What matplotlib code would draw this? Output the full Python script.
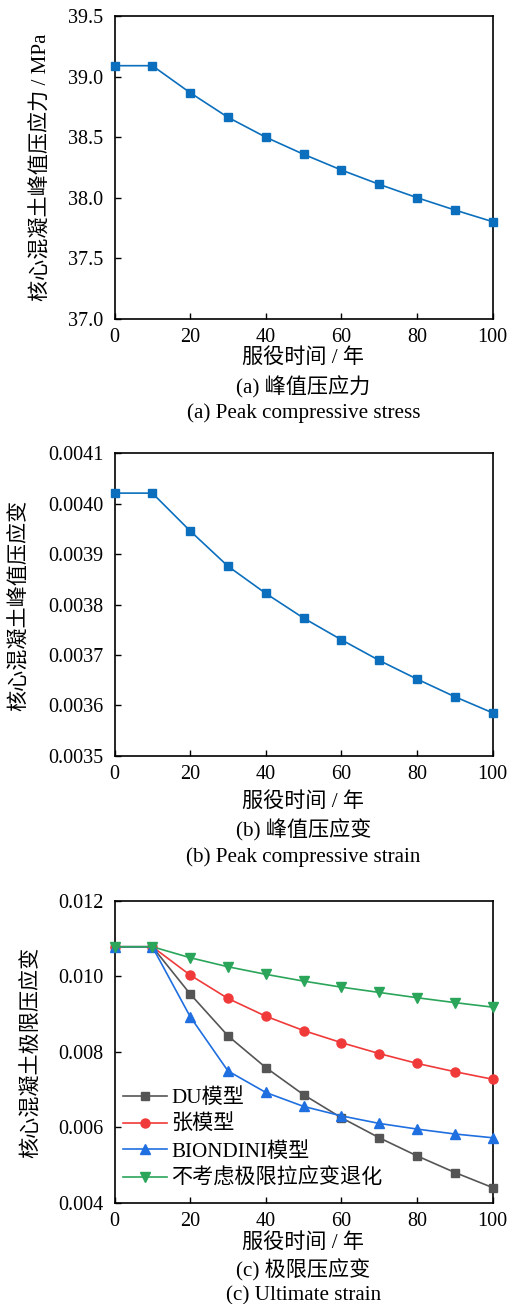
import numpy as np
import matplotlib.pyplot as plt

plt.rcParams['font.family'] = ['Liberation Serif', 'Noto Sans CJK SC']
plt.rcParams['mathtext.fontset'] = 'stix'

# service time (years)
years = [0, 10, 20, 30, 40, 50, 60, 70, 80, 90, 100]

# (a) peak compressive stress, MPa
peakStress = [39.09, 39.09, 38.867, 38.664, 38.50, 38.359, 38.229, 38.111, 38.001, 37.899, 37.803]
# (b) peak compressive strain
peakStrain = [0.004021, 0.004021, 0.003946, 0.003876, 0.003822, 0.003773,
              0.003730, 0.003689, 0.003652, 0.003617, 0.003585]
# (c) ultimate strain for the different models
ultDU = [0.01078, 0.01078, 0.00953, 0.00842, 0.00758, 0.00686, 0.00625, 0.00572, 0.00524, 0.00480, 0.00440]
ultZhang = [0.01078, 0.01078, 0.01003, 0.00941, 0.00894, 0.00856, 0.00824, 0.00795, 0.00769, 0.00747, 0.00727]
ultBiondini = [0.01078, 0.01078, 0.00893, 0.00749, 0.00692, 0.00655, 0.00630, 0.00610, 0.00595, 0.00582, 0.00572]
ultNoDeg = [0.01078, 0.01078, 0.01049, 0.01025, 0.01005, 0.00987, 0.00971, 0.00957, 0.00943, 0.00930, 0.00918]
seriesNames = ['DU模型', '张模型', 'BIONDINI模型', '不考虑极限拉应变退化']

W, H = 509, 1304
fig = plt.figure(figsize=(W/100, H/100), dpi=100)

def pixAxes(left, top, right, bottom):
  return fig.add_axes([left/W, 1-bottom/H, (right-left)/W, (bottom-top)/H])

def styleAx(ax):
  ax.set_xlim(0, 100)
  ax.set_xticks(np.arange(0, 101, 20))
  ax.tick_params(direction='in', labelsize=14.5, length=4, width=1)
  ax.tick_params(axis='x', pad=6.5)
  ax.tick_params(axis='y', pad=8)
  for s in ax.spines.values():
    s.set_linewidth(1.2)

def caption(y, text):
  fig.text(303.5/W, 1-y/H, text, ha='center', va='center', fontsize=15.2)

def ylab(x, y, text):
  fig.text(x/W, 1-y/H, text, rotation=90, ha='center', va='center', fontsize=15.2)

blue = '#0b6fbd'

## (a) peak compressive stress
ax1 = pixAxes(114.5, 16, 492.7, 319)
ax1.plot(years, peakStress, '-s', color=blue, markersize=6, linewidth=1.2, clip_on=False, zorder=5)
styleAx(ax1)
ax1.set_ylim(37.0, 39.5)
ax1.set_yticks([37.0, 37.5, 38.0, 38.5, 39.0, 39.5])
ax1.yaxis.set_major_formatter(plt.FormatStrFormatter('%.1f'))
ylab(41, 167, '核心混凝土峰值压应力 / MPa')
caption(358, '服役时间 / 年')
caption(387, '(a) 峰值压应力')
caption(413, '(a) Peak compressive stress')

## (b) peak compressive strain
ax2 = pixAxes(114.5, 453.3, 492.7, 755.7)
ax2.plot(years, peakStrain, '-s', color=blue, markersize=6, linewidth=1.2, clip_on=False, zorder=5)
styleAx(ax2)
ax2.set_ylim(0.0035, 0.0041)
ax2.set_yticks(np.arange(0.0035, 0.00411, 0.0001))
ax2.yaxis.set_major_formatter(plt.FormatStrFormatter('%.4f'))
ylab(20, 605, '核心混凝土峰值压应变')
caption(802, '服役时间 / 年')
caption(830, '(b) 峰值压应变')
caption(857, '(b) Peak compressive strain')

## (c) ultimate strain
ax3 = pixAxes(114.5, 900.7, 492.7, 1202.7)
ax3.plot(years, ultDU, '-s', color='#555555', markersize=6, linewidth=1.2, clip_on=False, zorder=5, label=seriesNames[0])
ax3.plot(years, ultZhang, '-o', color='#f03a3a', markersize=6.5, linewidth=1.2, clip_on=False, zorder=5, label=seriesNames[1])
ax3.plot(years, ultBiondini, '-^', color='#1f6fe0', markersize=7, linewidth=1.2, clip_on=False, zorder=5, label=seriesNames[2])
ax3.plot(years, ultNoDeg, '-v', color='#2aa55a', markersize=7, linewidth=1.2, clip_on=False, zorder=5, label=seriesNames[3])
styleAx(ax3)
ax3.set_ylim(0.004, 0.012)
ax3.set_yticks([0.004, 0.006, 0.008, 0.010, 0.012])
ax3.yaxis.set_major_formatter(plt.FormatStrFormatter('%.3f'))
ylab(32, 1052, '核心混凝土极限压应变')
ax3.legend(loc='lower left', bbox_to_anchor=(-0.015, 0.0), frameon=False, fontsize=15.2,
  handlelength=2.1, handletextpad=0.2, labelspacing=0.33, borderaxespad=0.25)
caption(1243, '服役时间 / 年')
caption(1270, '(c) 极限压应变')
caption(1296, '(c) Ultimate strain')

fig.savefig('out.png', dpi=100)
